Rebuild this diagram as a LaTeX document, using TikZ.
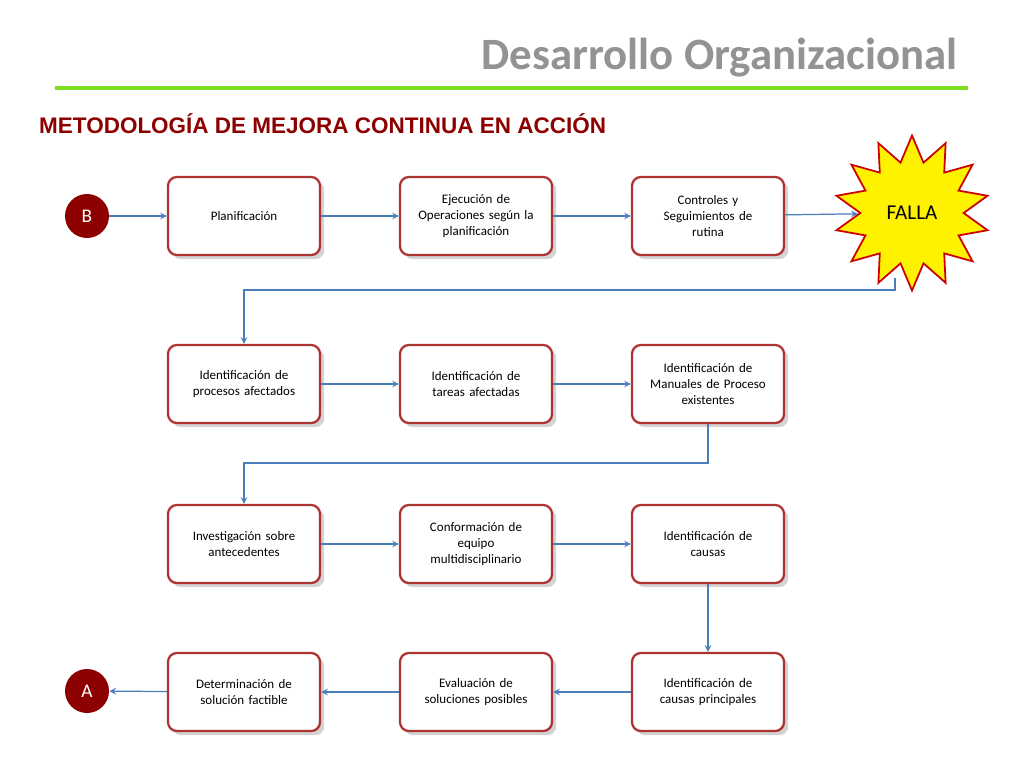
\documentclass[tikz,border=0pt]{standalone}
\usepackage{fontspec}
\setmainfont{Carlito}
\newfontfamily\arialfont{Liberation Sans}
\usetikzlibrary{shapes.geometric,shadows}
\definecolor{linkblue}{RGB}{74,126,187}
\tikzset{
  stepbox/.style={draw=red!60!black!80,line width=1.3pt,rounded corners=5pt,fill=white,
    minimum width=3.04cm,minimum height=1.56cm,text width=2.7cm,align=center,
    font=\fontsize{7.4}{9.2}\selectfont,drop shadow={opacity=0.35}},
  marker/.style={circle,fill=red!55!black,text=white,minimum size=0.88cm,inner sep=0pt,
    font=\fontsize{11}{11}\selectfont},
  link/.style={draw=linkblue,line width=0.7pt,->,>=stealth}
}
\begin{document}
\begin{tikzpicture}[x=0.02cm,y=-0.02cm]
\useasboundingbox (0,0) rectangle (1024,768);
% header
\node[anchor=east,text=gray!85,font=\fontsize{25.5}{25.5}\selectfont\bfseries] (title) at (964,58) {Desarrollo Organizacional};
\draw[green!50!yellow!75!gray,line width=2pt] (55,88) -- (968,88);
\node[anchor=west,text=red!55!black,font=\arialfont\fontsize{12.8}{12.8}\selectfont\bfseries] (sub) at (33,124) {METODOLOGÍA DE MEJORA CONTINUA EN ACCIÓN};
% row 1
\node[marker] (b) at (87,216) {B};
\node[stepbox] (plan) at (244,216) {Planificación};
\node[stepbox] (ejec) at (476,216) {Ejecución de\\ Operaciones según la\\ planificación};
\node[stepbox] (ctrl) at (708,216) {Controles y\\ Seguimientos de\\ rutina};
\node[star,star points=14,star point ratio=1.5,draw=red!80!black,line width=1pt,fill=yellow,
  minimum width=3.1cm,minimum height=2.5cm,font=\fontsize{12}{12}\selectfont] (falla) at (912,213) {FALLA};
% row 2
\node[stepbox] (proc) at (244,384) {Identificación de\\ procesos afectados};
\node[stepbox] (tare) at (476,384) {Identificación de\\ tareas afectadas};
\node[stepbox] (manu) at (708,384) {Identificación de\\ Manuales de Proceso\\ existentes};
% row 3
\node[stepbox] (inve) at (244,544) {Investigación sobre\\ antecedentes};
\node[stepbox] (equi) at (476,544) {Conformación de\\ equipo\\ multidisciplinario};
\node[stepbox] (caus) at (708,544) {Identificación de\\ causas};
% row 4
\node[stepbox] (deter) at (244,692) {Determinación de\\ solución factible};
\node[stepbox] (eval) at (476,692) {Evaluación de\\ soluciones posibles};
\node[stepbox] (prin) at (708,692) {Identificación de\\ causas principales};
\node[marker] (a) at (87,691) {A};
% connectors
\draw[link] (b) -- (plan);
\draw[link] (plan) -- (ejec);
\draw[link] (ejec) -- (ctrl);
\draw[link] (ctrl) -- (falla);
\draw[link] (895,278) -- (895,290) -- (244,290) -- (proc);
\draw[link] (proc) -- (tare);
\draw[link] (tare) -- (manu);
\draw[link] (manu) -- (708,463) -- (244,463) -- (inve);
\draw[link] (inve) -- (equi);
\draw[link] (equi) -- (caus);
\draw[link] (caus) -- (prin);
\draw[link] (prin) -- (eval);
\draw[link] (eval) -- (deter);
\draw[link] (deter) -- (a);
\end{tikzpicture}
\end{document}
